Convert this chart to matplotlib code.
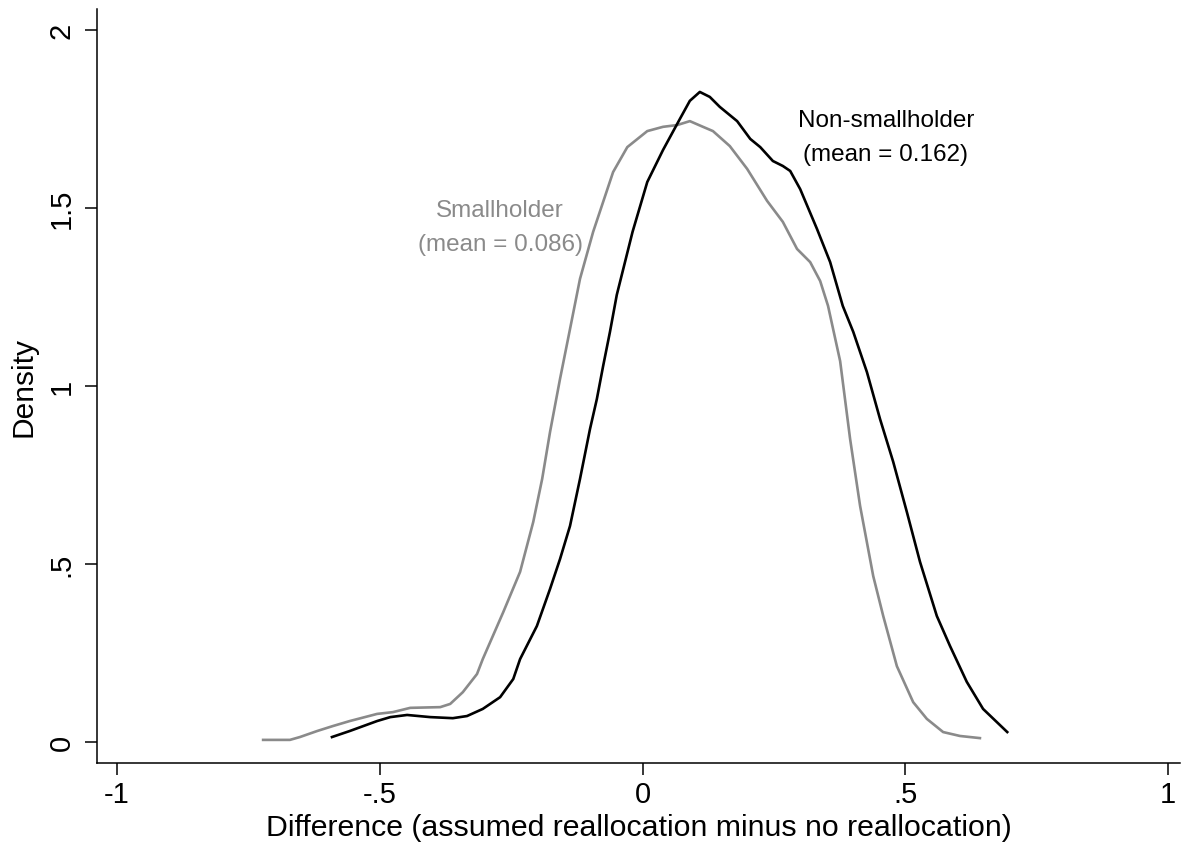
import matplotlib
matplotlib.use("Agg")
import matplotlib.pyplot as plt

plt.rcParams['font.family'] = ['Liberation Sans', 'DejaVu Sans']

# density estimates
nonsmall_x = [-0.591, -0.557, -0.505, -0.480, -0.448, -0.404, -0.361, -0.334, -0.304, -0.271,
              -0.246, -0.233, -0.201, -0.176, -0.157, -0.138, -0.119, -0.100, -0.087, -0.075,
              -0.062, -0.049, -0.019, 0.009, 0.039, 0.071, 0.090, 0.109, 0.128, 0.147,
              0.180, 0.205, 0.224, 0.248, 0.267, 0.281, 0.300, 0.332, 0.357, 0.381,
              0.401, 0.427, 0.452, 0.477, 0.503, 0.528, 0.560, 0.585, 0.617, 0.648, 0.694]
nonsmall_y = [0.014, 0.031, 0.059, 0.070, 0.076, 0.070, 0.067, 0.073, 0.093, 0.126,
              0.177, 0.233, 0.326, 0.430, 0.514, 0.607, 0.739, 0.879, 0.963, 1.056,
              1.152, 1.256, 1.433, 1.573, 1.663, 1.750, 1.801, 1.826, 1.812, 1.784,
              1.744, 1.694, 1.671, 1.632, 1.618, 1.604, 1.553, 1.441, 1.348, 1.225,
              1.152, 1.039, 0.907, 0.787, 0.646, 0.506, 0.354, 0.270, 0.169, 0.093, 0.028]

small_x = [-0.722, -0.671, -0.652, -0.619, -0.589, -0.557, -0.505, -0.475, -0.442, -0.385,
           -0.366, -0.342, -0.315, -0.304, -0.265, -0.233, -0.208, -0.191, -0.176, -0.157,
           -0.138, -0.119, -0.094, -0.056, -0.029, 0.009, 0.039, 0.066, 0.090, 0.115,
           0.134, 0.166, 0.199, 0.237, 0.267, 0.294, 0.319, 0.338, 0.353, 0.376,
           0.395, 0.414, 0.439, 0.458, 0.484, 0.515, 0.541, 0.572, 0.604, 0.642]
small_y = [0.006, 0.006, 0.014, 0.031, 0.045, 0.059, 0.079, 0.084, 0.096, 0.098,
           0.107, 0.140, 0.191, 0.233, 0.365, 0.478, 0.618, 0.739, 0.871, 1.020,
           1.160, 1.301, 1.433, 1.601, 1.671, 1.716, 1.728, 1.733, 1.744, 1.728,
           1.716, 1.674, 1.610, 1.520, 1.461, 1.385, 1.348, 1.295, 1.225, 1.070,
           0.851, 0.663, 0.466, 0.354, 0.213, 0.112, 0.065, 0.028, 0.017, 0.011]

xticks = [-1, -0.5, 0, 0.5, 1]
xticklabels = ['-1', '-.5', '0', '.5', '1']
yticks = [0, 0.5, 1, 1.5, 2]
yticklabels = ['0', '.5', '1', '1.5', '2']

gray = '#8a8a8a'

fig = plt.figure(figsize=(11.85, 8.53), dpi=100)
ax = fig.add_axes([0.0819, 0.1043, 0.914, 0.884])

ax.plot(small_x, small_y, color=gray, lw=1.9, solid_joinstyle='round')
ax.plot(nonsmall_x, nonsmall_y, color='black', lw=1.9, solid_joinstyle='round')

ax.text(0.463, 1.70, 'Non-smallholder\n(mean = 0.162)', ha='center', va='center',
        fontsize=17.5, linespacing=1.7, color='black')
ax.text(-0.271, 1.447, 'Smallholder\n(mean = 0.086)', ha='center', va='center',
        fontsize=17.5, linespacing=1.7, color=gray)

ax.set_xlim(-1.038, 1.023)
ax.set_ylim(-0.059, 2.059)
ax.set_xticks(xticks)
ax.set_xticklabels(xticklabels)
ax.set_yticks(yticks)
ax.set_yticklabels(yticklabels, rotation=90, va='center')

for s in ['top', 'right']:
    ax.spines[s].set_visible(False)
for s in ['left', 'bottom']:
    ax.spines[s].set_linewidth(1.1)

ax.tick_params(axis='both', length=8.5, width=1.1, labelsize=21, direction='out')
ax.tick_params(axis='x', pad=4)
ax.tick_params(axis='y', pad=7)

ax.set_xlabel('Difference (assumed reallocation minus no reallocation)', fontsize=21.8, labelpad=3)
ax.set_ylabel('Density', fontsize=21.5, labelpad=7)

fig.savefig('out.png', dpi=100)
